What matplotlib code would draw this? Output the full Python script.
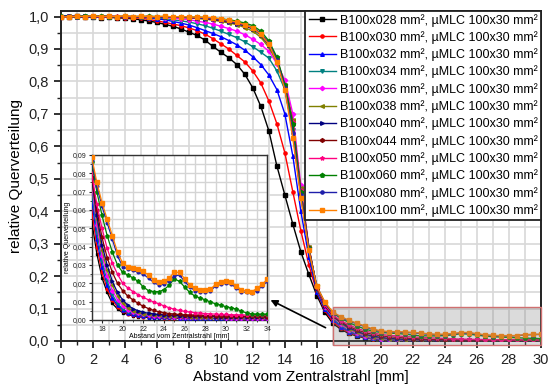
import numpy as np
import matplotlib
matplotlib.use("Agg")
import matplotlib.pyplot as plt
from matplotlib.patches import Rectangle
from matplotlib.ticker import MultipleLocator, FuncFormatter

plt.rcParams['font.family'] = ['Liberation Sans', 'DejaVu Sans']

# Abstand vom Zentralstrahl [mm], Messraster 0.5 mm
abstand = np.arange(0, 34.5, 0.5)

felder = ["028", "030", "032", "034", "036", "038", "040", "044", "050", "060", "080", "100"]

q028 = [1.000, 0.999, 1.001, 0.998, 0.999, 0.997, 0.998, 0.996, 0.995, 0.993,
        0.990, 0.986, 0.982, 0.976, 0.970, 0.962, 0.952, 0.942, 0.928, 0.908,
        0.890, 0.873, 0.852, 0.822, 0.780, 0.723, 0.648, 0.540, 0.450, 0.360,
        0.275, 0.205, 0.140, 0.088, 0.054, 0.036, 0.023, 0.015, 0.009, 0.006,
        0.004, 0.003, 0.0022, 0.0018, 0.0015, 0.0013, 0.0012, 0.0011, 0.0010, 0.0010,
        0.0010, 0.0009, 0.0009, 0.0009, 0.0008, 0.0008, 0.0008, 0.0008, 0.0007, 0.0007,
        0.0007, 0.0007, 0.0007, 0.0006, 0.0006, 0.0006, 0.0006, 0.0006, 0.0006]
q030 = [1.000, 1.001, 0.999, 1.000, 0.998, 0.999, 0.998, 0.997, 0.997, 0.996,
        0.995, 0.991, 0.987, 0.982, 0.977, 0.972, 0.965, 0.957, 0.946, 0.932,
        0.916, 0.900, 0.880, 0.860, 0.832, 0.795, 0.740, 0.670, 0.580, 0.460,
        0.340, 0.235, 0.150, 0.094, 0.060, 0.040, 0.026, 0.017, 0.011, 0.007,
        0.0048, 0.0035, 0.0027, 0.0022, 0.0019, 0.0017, 0.0015, 0.0014, 0.0013, 0.0012,
        0.0012, 0.0011, 0.0011, 0.0010, 0.0010, 0.0010, 0.0009, 0.0009, 0.0009, 0.0009,
        0.0009, 0.0008, 0.0008, 0.0008, 0.0008, 0.0008, 0.0007, 0.0007, 0.0007]
q032 = [1.001, 1.000, 1.002, 0.999, 1.000, 1.001, 0.999, 1.000, 0.998, 0.999,
        0.998, 0.996, 0.993, 0.990, 0.985, 0.980, 0.974, 0.966, 0.957, 0.948,
        0.938, 0.926, 0.913, 0.896, 0.876, 0.852, 0.820, 0.775, 0.700, 0.570,
        0.400, 0.260, 0.152, 0.098, 0.066, 0.044, 0.029, 0.019, 0.012, 0.008,
        0.0055, 0.0040, 0.0031, 0.0026, 0.0022, 0.0019, 0.0017, 0.0016, 0.0015, 0.0014,
        0.0014, 0.0013, 0.0013, 0.0012, 0.0012, 0.0011, 0.0011, 0.0011, 0.0010, 0.0010,
        0.0010, 0.0010, 0.0010, 0.0009, 0.0009, 0.0009, 0.0009, 0.0009, 0.0009]
q034 = [0.999, 1.000, 1.000, 1.001, 0.999, 1.000, 1.000, 0.999, 0.999, 0.998,
        0.998, 0.997, 0.996, 0.994, 0.990, 0.987, 0.983, 0.978, 0.972, 0.964,
        0.955, 0.945, 0.935, 0.922, 0.907, 0.890, 0.872, 0.833, 0.775, 0.650,
        0.450, 0.280, 0.158, 0.103, 0.070, 0.048, 0.032, 0.021, 0.014, 0.009,
        0.0060, 0.0045, 0.0036, 0.0030, 0.0026, 0.0023, 0.0021, 0.0019, 0.0018, 0.0017,
        0.0016, 0.0015, 0.0015, 0.0014, 0.0014, 0.0013, 0.0013, 0.0013, 0.0012, 0.0012,
        0.0012, 0.0012, 0.0011, 0.0011, 0.0011, 0.0011, 0.0011, 0.0010, 0.0010]
q036 = [1.000, 0.999, 1.000, 1.000, 1.001, 0.999, 1.000, 1.000, 0.999, 1.000,
        0.999, 0.998, 0.998, 0.997, 0.995, 0.993, 0.990, 0.986, 0.982, 0.977,
        0.970, 0.963, 0.955, 0.944, 0.930, 0.914, 0.893, 0.855, 0.805, 0.700,
        0.480, 0.290, 0.162, 0.106, 0.074, 0.052, 0.035, 0.024, 0.016, 0.011,
        0.0075, 0.0055, 0.0043, 0.0036, 0.0031, 0.0027, 0.0024, 0.0022, 0.0021, 0.0020,
        0.0019, 0.0018, 0.0017, 0.0016, 0.0016, 0.0015, 0.0015, 0.0014, 0.0014, 0.0014,
        0.0013, 0.0013, 0.0013, 0.0013, 0.0012, 0.0012, 0.0012, 0.0012, 0.0012]
q038 = [1.000, 1.001, 0.999, 1.000, 1.000, 1.001, 0.999, 1.000, 1.000, 0.999,
        1.000, 0.999, 0.999, 0.998, 0.998, 0.997, 0.996, 0.994, 0.992, 0.989,
        0.985, 0.980, 0.975, 0.966, 0.955, 0.936, 0.905, 0.860, 0.790, 0.680,
        0.470, 0.290, 0.163, 0.108, 0.076, 0.055, 0.038, 0.027, 0.019, 0.013,
        0.0090, 0.0065, 0.0050, 0.0041, 0.0035, 0.0031, 0.0028, 0.0026, 0.0024, 0.0023,
        0.0022, 0.0021, 0.0020, 0.0019, 0.0018, 0.0018, 0.0017, 0.0017, 0.0016, 0.0016,
        0.0016, 0.0015, 0.0015, 0.0015, 0.0015, 0.0014, 0.0014, 0.0014, 0.0014]
q040 = [1.001, 1.002, 1.000, 1.001, 0.999, 1.000, 1.001, 1.000, 0.999, 1.000,
        1.000, 0.999, 1.000, 0.999, 0.998, 0.998, 0.997, 0.996, 0.994, 0.991,
        0.988, 0.983, 0.978, 0.971, 0.962, 0.943, 0.912, 0.865, 0.785, 0.670,
        0.460, 0.285, 0.163, 0.109, 0.077, 0.057, 0.041, 0.030, 0.021, 0.015,
        0.0110, 0.0080, 0.0062, 0.0050, 0.0042, 0.0037, 0.0033, 0.0030, 0.0028, 0.0026,
        0.0025, 0.0024, 0.0023, 0.0022, 0.0021, 0.0021, 0.0020, 0.0020, 0.0019, 0.0019,
        0.0019, 0.0018, 0.0018, 0.0018, 0.0018, 0.0017, 0.0017, 0.0017, 0.0017]
q044 = [0.999, 1.000, 1.000, 0.999, 1.001, 1.000, 1.000, 0.999, 1.000, 1.000,
        0.999, 1.000, 0.999, 0.999, 0.998, 0.998, 0.997, 0.996, 0.995, 0.992,
        0.989, 0.985, 0.980, 0.973, 0.965, 0.946, 0.915, 0.868, 0.787, 0.670,
        0.460, 0.285, 0.163, 0.110, 0.078, 0.060, 0.045, 0.034, 0.026, 0.020,
        0.0160, 0.0130, 0.0110, 0.0090, 0.0075, 0.0062, 0.0052, 0.0045, 0.0040, 0.0035,
        0.0032, 0.0030, 0.0028, 0.0027, 0.0026, 0.0025, 0.0024, 0.0023, 0.0023, 0.0022,
        0.0022, 0.0021, 0.0021, 0.0021, 0.0020, 0.0020, 0.0020, 0.0020, 0.0019]
q050 = [1.000, 0.999, 1.001, 1.000, 1.000, 0.999, 1.000, 1.001, 1.000, 0.999,
        1.000, 1.000, 0.999, 0.999, 0.999, 0.998, 0.997, 0.996, 0.995, 0.993,
        0.990, 0.986, 0.981, 0.974, 0.966, 0.948, 0.918, 0.870, 0.790, 0.675,
        0.465, 0.288, 0.165, 0.112, 0.080, 0.063, 0.050, 0.039, 0.031, 0.025,
        0.0200, 0.0175, 0.0155, 0.0138, 0.0123, 0.0110, 0.0098, 0.0088, 0.0077, 0.0067,
        0.0058, 0.0052, 0.0047, 0.0043, 0.0040, 0.0037, 0.0035, 0.0033, 0.0032, 0.0030,
        0.0030, 0.0029, 0.0028, 0.0028, 0.0027, 0.0027, 0.0026, 0.0026, 0.0026]
q060 = [1.001, 1.000, 1.000, 1.002, 1.000, 1.001, 1.000, 1.000, 1.001, 1.000,
        1.000, 1.001, 1.000, 1.000, 0.999, 0.999, 0.998, 0.998, 0.997, 0.995,
        0.993, 0.990, 0.986, 0.980, 0.972, 0.955, 0.925, 0.875, 0.790, 0.670,
        0.460, 0.285, 0.168, 0.117, 0.086, 0.070, 0.057, 0.046, 0.037, 0.030,
        0.0260, 0.0245, 0.0230, 0.0210, 0.0180, 0.0160, 0.0155, 0.0155, 0.0165, 0.0190,
        0.0225, 0.0210, 0.0180, 0.0150, 0.0130, 0.0120, 0.0110, 0.0098, 0.0088, 0.0080,
        0.0073, 0.0066, 0.0060, 0.0048, 0.0038, 0.0033, 0.0030, 0.0030, 0.0030]
q080 = [1.000, 1.001, 1.000, 0.999, 1.000, 1.000, 1.001, 0.999, 1.000, 1.000,
        0.999, 1.000, 0.999, 0.999, 0.998, 0.998, 0.997, 0.996, 0.995, 0.993,
        0.990, 0.986, 0.981, 0.975, 0.966, 0.947, 0.917, 0.865, 0.780, 0.640,
        0.450, 0.283, 0.168, 0.118, 0.087, 0.073, 0.062, 0.053, 0.044, 0.035,
        0.0290, 0.0278, 0.0270, 0.0260, 0.0250, 0.0228, 0.0205, 0.0190, 0.0195, 0.0215,
        0.0240, 0.0245, 0.0210, 0.0180, 0.0160, 0.0155, 0.0155, 0.0160, 0.0185, 0.0195,
        0.0200, 0.0195, 0.0175, 0.0155, 0.0150, 0.0148, 0.0160, 0.0185, 0.0210]
q100 = [0.998, 1.000, 1.001, 1.000, 1.002, 1.000, 1.001, 1.000, 1.002, 1.000,
        1.001, 1.000, 1.000, 1.001, 0.999, 1.000, 0.999, 0.998, 0.998, 0.996,
        0.993, 0.988, 0.983, 0.975, 0.965, 0.945, 0.915, 0.860, 0.775, 0.625,
        0.440, 0.280, 0.168, 0.120, 0.089, 0.075, 0.064, 0.055, 0.046, 0.037,
        0.0310, 0.0290, 0.0285, 0.0280, 0.0265, 0.0245, 0.0220, 0.0205, 0.0210, 0.0230,
        0.0260, 0.0260, 0.0225, 0.0190, 0.0172, 0.0165, 0.0164, 0.0168, 0.0195, 0.0205,
        0.0210, 0.0205, 0.0185, 0.0165, 0.0158, 0.0155, 0.0172, 0.0195, 0.0222]

kurven = [q028, q030, q032, q034, q036, q038, q040, q044, q050, q060, q080, q100]
farben = ['#000000', '#FF0000', '#0000FF', '#008080', '#FF00FF', '#808000',
          '#000080', '#800000', '#FF0080', '#008000', '#1E1EAA', '#FF8000']
symbole = ['s', 'o', '^', 'v', 'D', '<', '>', 'h', '*', 'p', 'o', 's']
groesse = [2.2, 2.3, 2.6, 2.6, 2.2, 2.6, 2.6, 2.6, 3.0, 3.0, 2.3, 3.2]

fig = plt.figure(figsize=(5.53, 3.91), dpi=100)
ax = fig.add_axes([0.110, 0.128, 0.868, 0.845])

for k, f, c, m, g in zip(kurven, felder, farben, symbole, groesse):
    ax.plot(abstand, k, color=c, marker=m, ms=g, lw=1.0, zorder=3,
            label="B100x%s mm², µMLC 100x30 mm²" % f)

ax.set_xlim(0, 30)
ax.set_ylim(0, 1.0185)
ax.xaxis.set_major_locator(MultipleLocator(2))
ax.xaxis.set_minor_locator(MultipleLocator(1))
ax.yaxis.set_major_locator(MultipleLocator(0.1))
ax.yaxis.set_minor_locator(MultipleLocator(0.05))
ax.yaxis.set_major_formatter(FuncFormatter(lambda v, p: ('%.1f' % v).replace('.', ',')))
ax.grid(which='both', color='#d8d8d8', lw=1.2, zorder=0)
ax.set_axisbelow(True)
ax.tick_params(which='major', direction='out', length=5, width=1.3, labelsize=10.5, colors='#222222')
ax.tick_params(which='minor', direction='out', length=3, width=1.0, colors='#222222')
for s in ax.spines.values():
    s.set_linewidth(1.4)
    s.set_color('#222222')
ax.set_xlabel("Abstand vom Zentralstrahl [mm]", fontsize=11, labelpad=2)
ax.set_ylabel("relative Querverteilung", fontsize=11, labelpad=4)

# grauer Bereich = Ausschnitt fuer das Inset
ax.add_patch(Rectangle((17, -0.012), 13, 0.116, facecolor='#808080', alpha=0.28,
                       edgecolor='none', zorder=4, clip_on=False))
ax.add_patch(Rectangle((17, -0.012), 13, 0.116, facecolor='none',
                       edgecolor='#d07070', lw=1.0, zorder=4, clip_on=False))

ax.annotate('', xy=(12.95, 0.13), xytext=(16.7, 0.037),
            arrowprops=dict(arrowstyle='-|>', color='k', lw=1.2, mutation_scale=10),
            zorder=6)

leg = ax.legend(loc='upper right', fontsize=9, frameon=True, fancybox=False,
                edgecolor='#222222', framealpha=1, borderaxespad=0, borderpad=0.25,
                handlelength=2.2, handletextpad=0.3, labelspacing=0.36)
leg.get_frame().set_linewidth(1.3)
leg.set_zorder(7)

# Inset
ins = fig.add_axes([0.1658, 0.1816, 0.3176, 0.422])
for k, c, m, g in zip(kurven, farben, symbole, groesse):
    ins.plot(abstand, k, color=c, marker=m, ms=g * 0.85, lw=0.9, zorder=3)
ins.set_xlim(17, 34)
ins.set_ylim(0, 0.09)
ins.xaxis.set_major_locator(MultipleLocator(2))
ins.xaxis.set_minor_locator(MultipleLocator(1))
ins.yaxis.set_major_locator(MultipleLocator(0.01))
ins.yaxis.set_minor_locator(MultipleLocator(0.005))
ins.yaxis.set_major_formatter(FuncFormatter(lambda v, p: ('%.2f' % v).replace('.', ',')))
ins.grid(which='both', color='#d4d4d4', lw=1.0, zorder=0)
ins.set_axisbelow(True)
ins.tick_params(which='major', direction='out', length=2.5, width=0.8, labelsize=5, pad=1.5,
                colors='#222222')
ins.tick_params(which='minor', direction='out', length=1.5, width=0.6, colors='#222222')
for s in ins.spines.values():
    s.set_linewidth(1.0)
    s.set_color('#333333')
ins.set_xlabel("Abstand vom Zentralstrahl [mm]", fontsize=5, labelpad=0.5)
ins.set_ylabel("relative Querverteilung", fontsize=5, labelpad=1)

fig.savefig("out.png", dpi=100)
